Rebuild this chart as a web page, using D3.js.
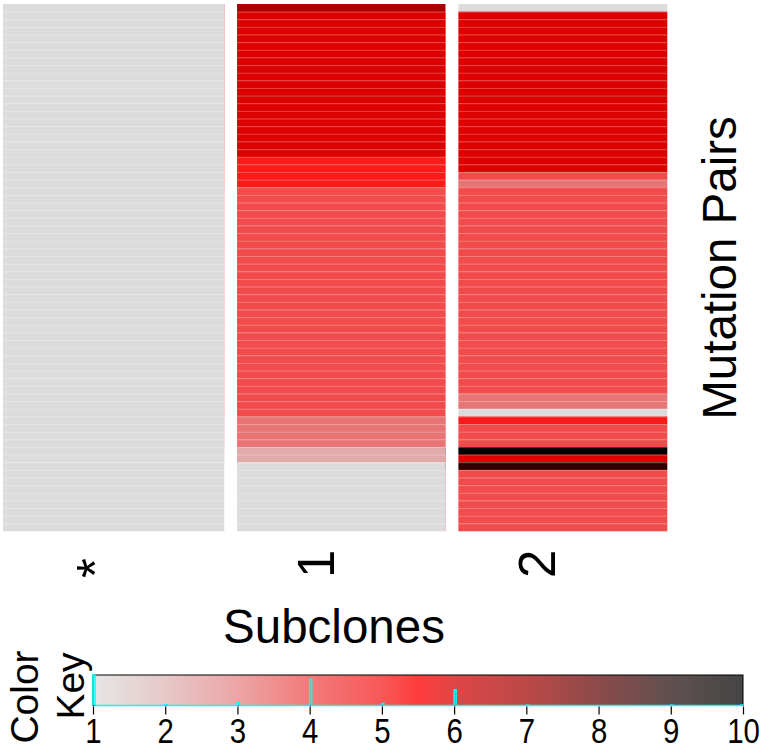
<!DOCTYPE html>
<html lang="en">
<head>
  <meta charset="UTF-8">
  <title>Mutation Pairs heatmap</title>
  <script src="https://cdn.jsdelivr.net/npm/d3@7/dist/d3.min.js"></script>
  <style>
    body { margin: 0; background: #fff; }
    text { font-family: "Liberation Sans", Arial, sans-serif; fill: #000; }
  </style>
</head>
<body>
<div id="chart"></div>
<script>
  // column labels (subclones)
  const subclones = ['*', '1', '2'];

  // value of each mutation pair (row, top to bottom) in each subclone
  const colStar = [1,1,1,1,1,1,1,1,1,1, 1,1,1,1,1,1,1,1,1,1,
                   1,1,1,1,1,1,1,1,1,1, 1,1,1,1,1,1,1,1,1,1,
                   1,1,1,1,1,1,1,1,1,1, 1,1,1,1,1,1,1,1,1,1,
                   1,1,1,1,1,1,1,1,1];
  const col1 = [7,6,6,6,6,6,6,6,6,6, 6,6,6,6,6,6,6,6,6,6,
                5,5,5,5,4,4,4,4,4,4, 4,4,4,4,4,4,4,4,4,4,
                4,4,4,4,4,4,4,4,4,4, 4,4,4,4,3,3,3,3,2,2,
                1,1,1,1,1,1,1,1,1];
  const col2 = [1,6,6,6,6,6,6,6,6,6, 6,6,6,6,6,6,6,6,6,6,
                6,6,4,3,4,4,4,4,4,4, 4,4,4,4,4,4,4,4,4,4,
                4,4,4,4,4,4,4,4,4,4, 4,3,3,1,5,4,4,4,10,6,
                9,4,4,4,4,4,4,4,4];
  const columns = [colStar, col1, col2];

  // colour key
  const keyTicks = [1,2,3,4,5,6,7,8,9,10];
  const cellColors = ['#dcdcdc','#e2a9ab','#e77575','#f24b4b','#ff1a1a',
                      '#dd0000','#aa0000','#770000','#330000','#000000'];
  const keyStops = [1, 2, 3, 4, 5, 5.5, 6, 7, 8, 9, 10];
  const keyColors = ['#e6e6e6','#e6c8c8','#eca5a5','#f27a7a','#f85858','#ff3c3c',
                     '#de4646','#bc4848','#8c4a4a','#605050','#454545'];

  const W = 765, H = 750;
  const svg = d3.select('#chart').append('svg')
    .attr('width', W).attr('height', H);

  const nRows = colStar.length;
  const x = d3.scaleBand().domain(subclones).range([3, 667]);
  const y = d3.scaleBand().domain(d3.range(nRows)).range([4, 531]);
  const color = d3.scaleOrdinal().domain(keyTicks).range(cellColors);
  const sepW = 12.7;

  // cells
  const cells = [];
  columns.forEach((col, j) => col.forEach((v, i) => cells.push({ c: subclones[j], r: i, v })));

  svg.append('g').selectAll('rect')
    .data(cells)
    .enter().append('rect')
    .attr('x', d => x(d.c))
    .attr('y', d => y(d.r))
    .attr('width', x.bandwidth() + 0.3)
    .attr('height', y.bandwidth() + 0.3)
    .attr('fill', d => color(d.v));

  // faint light lines between rows
  svg.append('g').selectAll('line')
    .data(d3.range(1, nRows))
    .enter().append('line')
    .attr('x1', x('*'))
    .attr('x2', x('2') + x.bandwidth())
    .attr('y1', d => y(d) + 0.5)
    .attr('y2', d => y(d) + 0.5)
    .attr('stroke', '#fff')
    .attr('stroke-opacity', 0.25)
    .attr('stroke-width', 1);

  // white column separators
  svg.append('g').selectAll('rect')
    .data(subclones.slice(1))
    .enter().append('rect')
    .attr('x', d => x(d))
    .attr('y', 0)
    .attr('width', sepW)
    .attr('height', 540)
    .attr('fill', '#fff');

  // column labels, rotated
  svg.append('g').selectAll('text')
    .data(subclones)
    .enter().append('text')
    .attr('transform', d => `translate(${x(d) + x.bandwidth() / 2 - 1},578) rotate(-90)`)
    .attr('text-anchor', 'start')
    .attr('font-size', 51)
    .text(d => d);

  svg.append('text')
    .attr('x', 334).attr('y', 643)
    .attr('text-anchor', 'middle')
    .attr('font-size', 47.5)
    .text('Subclones');

  svg.append('text')
    .attr('transform', 'translate(736,268) rotate(-90)')
    .attr('text-anchor', 'middle')
    .attr('font-size', 47.5)
    .text('Mutation Pairs');

  // colour key
  const kx = d3.scaleLinear().domain([1, 10]).range([93, 743]);
  const kTop = 675, kBot = 705.5;

  const grad = svg.append('defs').append('linearGradient')
    .attr('id', 'keygrad')
    .attr('gradientUnits', 'userSpaceOnUse')
    .attr('x1', kx(1)).attr('x2', kx(10)).attr('y1', 0).attr('y2', 0);
  grad.selectAll('stop')
    .data(keyStops)
    .enter().append('stop')
    .attr('offset', d => (kx(d) - kx(1)) / (kx(10) - kx(1)))
    .attr('stop-color', (d, i) => keyColors[i]);

  svg.append('rect')
    .attr('x', kx(1)).attr('y', kTop)
    .attr('width', kx(10) - kx(1)).attr('height', kBot - kTop)
    .attr('fill', 'url(#keygrad)')
    .attr('stroke', '#000').attr('stroke-width', 1);

  // histogram of values, cyan step line
  const allVals = columns.flat();
  const counts = keyTicks.map(t => allVals.filter(v => v === t).length);
  const hy = d3.scaleLinear().domain([0, d3.max(counts)]).range([kBot, kTop]);
  const binW = 2;
  let hp = d3.path();
  hp.moveTo(kx(1), kBot);
  keyTicks.forEach((t, i) => {
    const x0 = t === 10 ? kx(t) - binW : kx(t);
    hp.lineTo(x0, kBot);
    hp.lineTo(x0, hy(counts[i]));
    hp.lineTo(x0 + binW, hy(counts[i]));
    hp.lineTo(x0 + binW, kBot);
  });
  hp.lineTo(kx(10), kBot);
  svg.append('path')
    .attr('d', hp.toString())
    .attr('fill', 'none')
    .attr('stroke', '#00ffff')
    .attr('stroke-width', 1.5);

  const axis = d3.axisBottom(kx).tickValues(keyTicks).tickSize(8).tickFormat(d3.format('d'));
  const ag = svg.append('g')
    .attr('transform', `translate(0,${kBot + 1})`)
    .call(axis);
  ag.select('.domain').remove();
  ag.selectAll('line').attr('stroke', '#000').attr('stroke-width', 1.2);
  // narrow looking tick labels: squeeze horizontally
  ag.selectAll('text')
    .attr('font-family', '"Liberation Sans", Arial, sans-serif')
    .attr('font-size', 35)
    .attr('fill', '#000')
    .attr('dy', 0)
    .attr('y', 0)
    .attr('transform', 'translate(0,36.5) scale(0.84,1)');

  svg.append('text')
    .attr('transform', 'translate(38,697) rotate(-90)')
    .attr('text-anchor', 'middle')
    .attr('font-size', 39)
    .text('Color');
  svg.append('text')
    .attr('transform', 'translate(84,686) rotate(-90)')
    .attr('text-anchor', 'middle')
    .attr('font-size', 39)
    .text('Key');
</script>
</body>
</html>
